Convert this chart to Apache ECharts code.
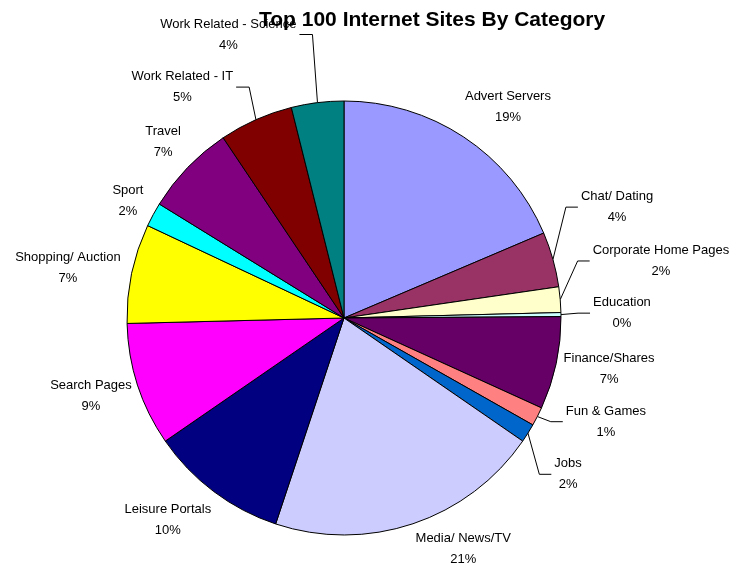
<!DOCTYPE html>
<html><head><meta charset="utf-8">
<script src="https://cdn.jsdelivr.net/npm/echarts@6/dist/echarts.min.js"></script>
<style>html,body{margin:0;padding:0;background:#fff}#c{width:734px;height:565px}</style>
</head><body><div id="c"></div>
<script>
// ---- data ----
const categories = ['Advert Servers', 'Chat/ Dating', 'Corporate Home Pages', 'Education', 'Finance/Shares', 'Fun & Games', 'Jobs', 'Media/ News/TV', 'Leisure Portals', 'Search Pages', 'Shopping/ Auction', 'Sport', 'Travel', 'Work Related - IT', 'Work Related - Science'];
const values = [18.6, 4.1, 1.9, 0.3, 6.9, 1.4, 1.4, 20.5, 10.3, 9.2, 7.4, 1.8, 6.8, 5.5, 3.9];
const pctLabels = ['19%', '4%', '2%', '0%', '7%', '1%', '2%', '21%', '10%', '9%', '7%', '2%', '7%', '5%', '4%'];

// ---- style / layout ----
const colors = ['#9999FF', '#993366', '#FFFFCC', '#CCFFFF', '#660066', '#FF8080', '#0066CC', '#CCCCFF', '#000080', '#FF00FF', '#FFFF00', '#00FFFF', '#800080', '#800000', '#008080'];
const CX = 344, CY = 318, R = 217;
// label placement relative to pie centre: [angle clockwise from top (deg), distance in radii]
const labelPlace = [[37.9, 1.230], [67.9, 1.358], [79.8, 1.484], [89.0, 1.281], [100.9, 1.244], [111.6, 1.298], [124.9, 1.259], [152.7, 1.198], [221.1, 1.235], [252.9, 1.220], [280.3, 1.293], [298.5, 1.133], [314.3, 1.165], [325.0, 1.299], [337.8, 1.411]];
const leaderIdx = [1, 2, 3, 5, 6, 13, 14];

const total = values.reduce((a, b) => a + b, 0);
const midAngles = [];
let acc = 0;
values.forEach(v => { midAngles.push((acc + v / 2) / total * 360); acc += v; });

const font = 'Liberation Sans, Arial, sans-serif';
const chart = echarts.init(document.getElementById('c'), null, {renderer: 'canvas'});
chart.setOption({
  animation: false,
  backgroundColor: '#fff',
  title: {
    text: 'Top 100 Internet Sites By Category',
    left: 259, top: 10, padding: 0,
    textStyle: {fontFamily: font, fontSize: 21, fontWeight: 'bold', color: '#000'}
  },
  series: [{
    type: 'pie',
    center: [CX, CY],
    radius: R,
    startAngle: 90,
    clockwise: true,
    avoidLabelOverlap: false,
    minShowLabelAngle: 0,
    itemStyle: {borderColor: '#000', borderWidth: 1},
    emphasis: {disabled: true},
    label: {
      show: true, position: 'outside',
      fontFamily: font, fontSize: 13, lineHeight: 21, color: '#000', align: 'center',
      formatter: p => categories[p.dataIndex] + '\n' + pctLabels[p.dataIndex]
    },
    labelLine: {show: false, length: 10, length2: 10, lineStyle: {color: '#000', width: 1}},
    labelLayout: function (params) {
      const i = params.dataIndex;
      const a = labelPlace[i][0] * Math.PI / 180, f = labelPlace[i][1];
      const x = CX + R * f * Math.sin(a), y = CY - R * f * Math.cos(a);
      const res = {x: x, y: y, align: 'center', verticalAlign: 'middle'};
      if (leaderIdx.indexOf(i) >= 0) {
        const m = midAngles[i] * Math.PI / 180;
        const sx = CX + R * Math.sin(m), sy = CY - R * Math.cos(m);
        const w = params.labelRect.width;
        const right = x > CX;
        const ex = right ? x - w / 2 - 3 : x + w / 2 + 3;
        const bx = right ? ex - 12 : ex + 13;
        res.labelLinePoints = [[sx, sy], [bx, y], [ex, y]];
      }
      return res;
    },
    data: categories.map((c, i) => ({
      name: c, value: values[i],
      itemStyle: {color: colors[i]},
      labelLine: {show: leaderIdx.indexOf(i) >= 0}
    }))
  }]
});
</script>
</body></html>
